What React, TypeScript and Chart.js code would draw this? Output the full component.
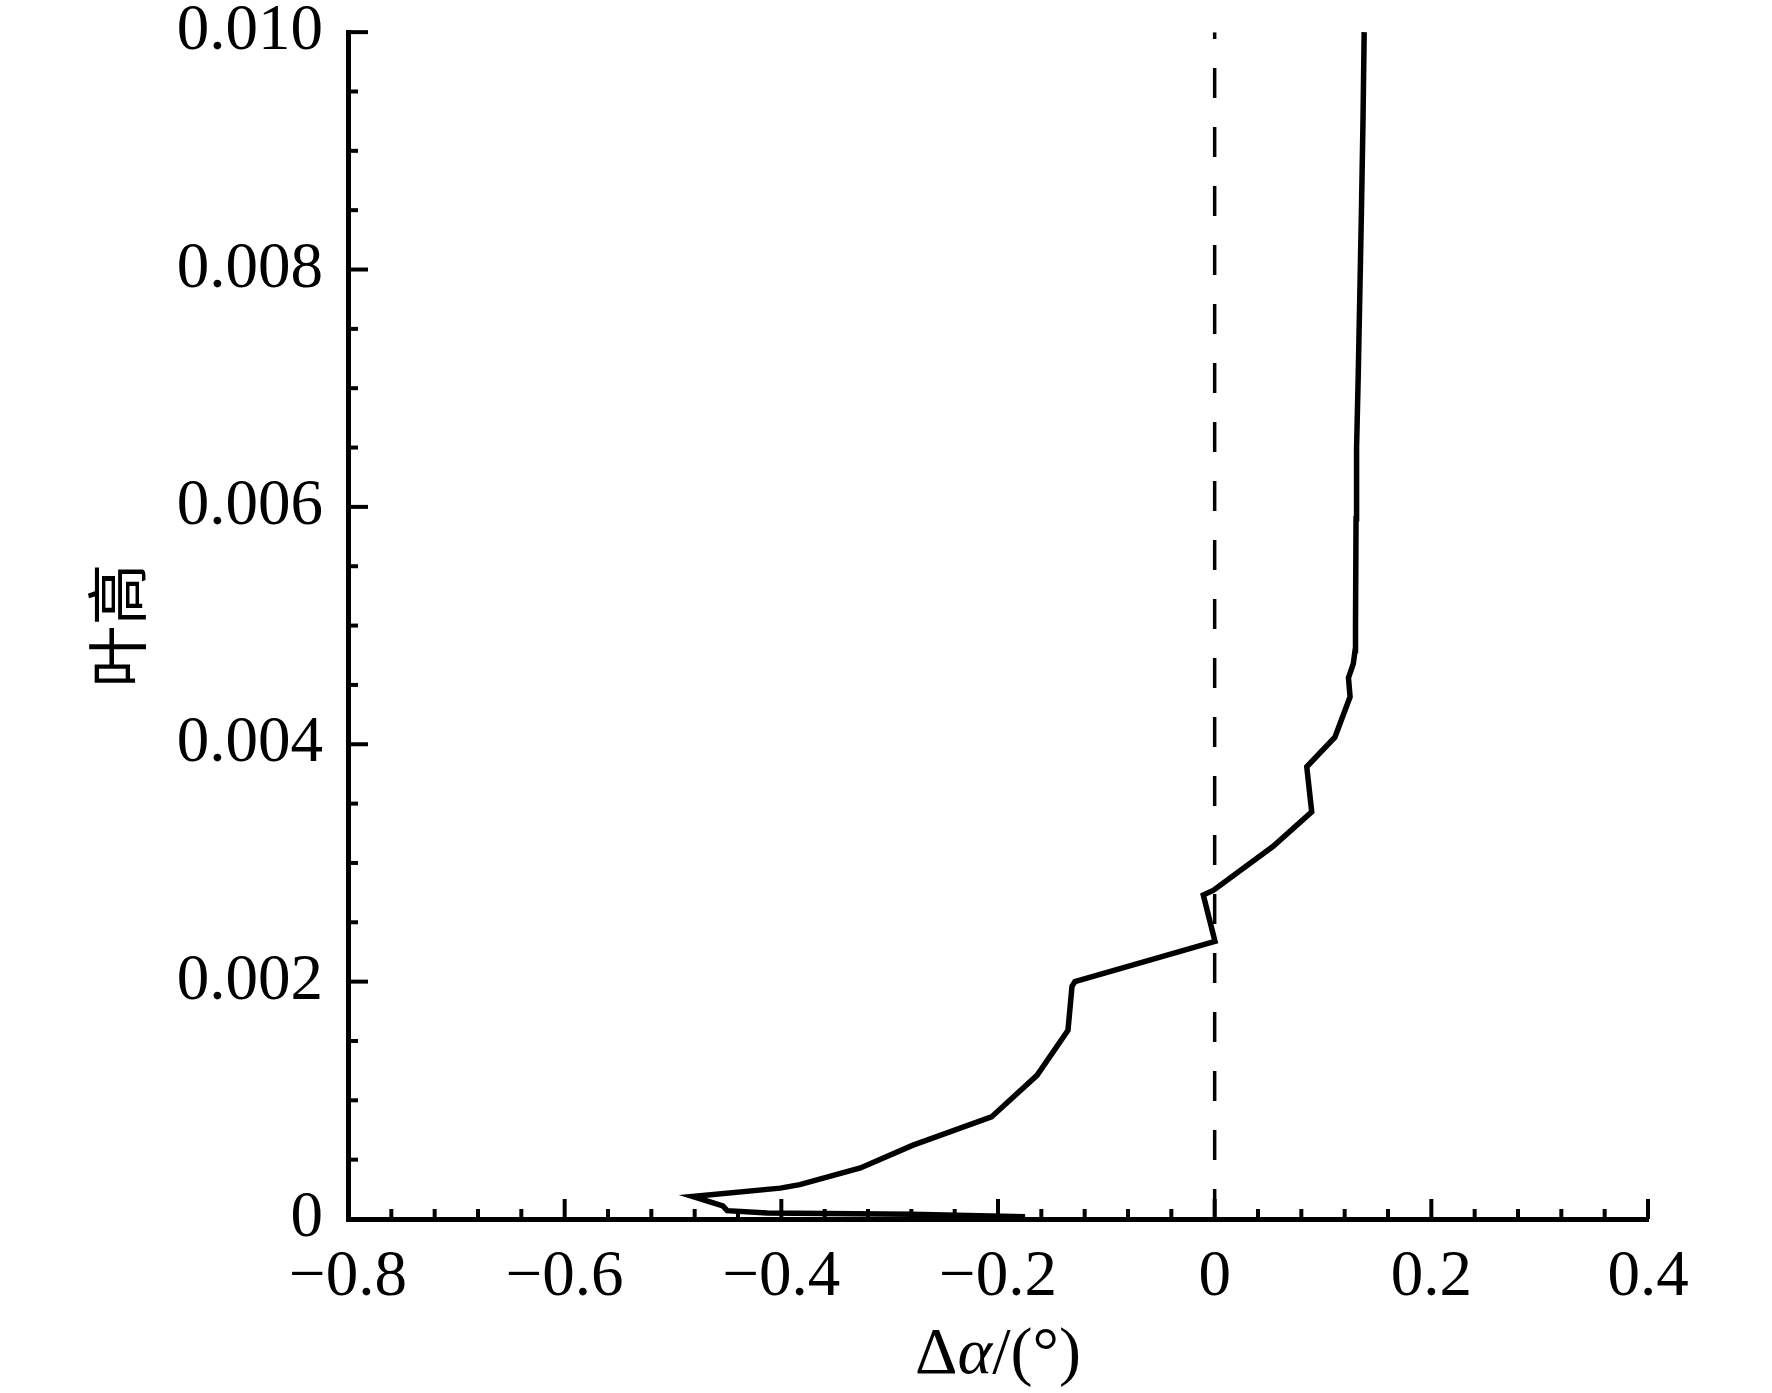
import { useEffect, useRef } from 'react';
import { Chart, registerables } from 'chart.js';

Chart.register(...registerables);

// Blade twist deviation along the blade height
const deltaAlpha = [
  -0.175, -0.28, -0.413, -0.45, -0.454, -0.482, -0.401, -0.383, -0.327, -0.279,
  -0.206, -0.164, -0.1354, -0.1317, -0.129, 0.0003, -0.0105, -0.001, 0.054, 0.0896,
  0.085, 0.111, 0.125, 0.1235, 0.128, 0.1296, 0.13, 0.1305, 0.131, 0.1325,
  0.134, 0.1355, 0.137, 0.138,
];
const bladeHeight = [
  0.00002, 0.00004, 0.00005, 0.00007, 0.00011, 0.00019, 0.00026, 0.00029, 0.00043, 0.00062,
  0.00086, 0.00121, 0.00159, 0.00196, 0.002, 0.00234, 0.00273, 0.00277, 0.00314, 0.00343,
  0.00381, 0.00406, 0.0044, 0.00456, 0.00468, 0.00479, 0.005, 0.0059, 0.0065, 0.0071,
  0.0078, 0.0085, 0.0093, 0.01,
];

// zero reference line
const zeroLineX = [0, 0];
const zeroLineY = [0, 0.01];

const xTickValues = [-0.8, -0.6, -0.4, -0.2, 0, 0.2, 0.4];
const xTickLabels = ['\u22120.8', '\u22120.6', '\u22120.4', '\u22120.2', '0', '0.2', '0.4'];
const yTickValues = [0, 0.002, 0.004, 0.006, 0.008, 0.01];
const yTickLabels = ['0', '0.002', '0.004', '0.006', '0.008', '0.010'];

const SERIF = '"Liberation Serif", "Times New Roman", serif';

// ticks point inward, major + minor
const innerTicks = {
  id: 'innerTicks',
  afterDraw(chart: any) {
    const { ctx, chartArea, scales } = chart;
    const xs = scales.x;
    const ys = scales.y;
    ctx.save();
    ctx.strokeStyle = '#000';
    ctx.lineWidth = 4;
    ctx.lineCap = 'butt';
    for (let i = 0; i <= 30; i++) {
      const v = -0.8 + i * 0.04;
      const px = xs.getPixelForValue(v);
      const len = i % 5 === 0 ? 20 : 10;
      ctx.beginPath();
      ctx.moveTo(px, chartArea.bottom);
      ctx.lineTo(px, chartArea.bottom - len);
      ctx.stroke();
    }
    for (let i = 0; i <= 20; i++) {
      const v = i * 0.0005;
      const py = ys.getPixelForValue(v);
      const len = i % 4 === 0 ? 20 : 10;
      ctx.beginPath();
      ctx.moveTo(chartArea.left, py);
      ctx.lineTo(chartArea.left + len, py);
      ctx.stroke();
    }
    ctx.restore();
  },
};

// x title with italic alpha
const xTitle = {
  id: 'xTitle',
  afterDraw(chart: any) {
    const { ctx, chartArea } = chart;
    const parts = [
      { t: '\u0394', f: `66px ${SERIF}` },
      { t: '\u03b1', f: `italic 66px ${SERIF}` },
      { t: '/(\u00b0)', f: `66px ${SERIF}` },
    ];
    ctx.save();
    ctx.fillStyle = '#000';
    ctx.textBaseline = 'alphabetic';
    ctx.textAlign = 'left';
    let total = 0;
    parts.forEach((p) => {
      ctx.font = p.f;
      total += ctx.measureText(p.t).width;
    });
    let x = (chartArea.left + chartArea.right) / 2 - total / 2;
    parts.forEach((p) => {
      ctx.font = p.f;
      ctx.fillText(p.t, x, 1373);
      x += ctx.measureText(p.t).width;
    });
    ctx.restore();
  },
};

export default function App() {
  const canvasRef = useRef<HTMLCanvasElement>(null);

  useEffect(() => {
    if (!canvasRef.current) return;
    const chart = new Chart(canvasRef.current, {
      type: 'scatter',
      data: {
        datasets: [
          {
            data: deltaAlpha.map((x, i) => ({ x, y: bladeHeight[i] })),
            showLine: true,
            borderColor: '#000',
            borderWidth: 5.5,
            pointRadius: 0,
            tension: 0,
            clip: false,
          },
          {
            data: zeroLineX.map((x, i) => ({ x, y: zeroLineY[i] })),
            showLine: true,
            borderColor: '#000',
            borderWidth: 3.5,
            borderDash: [30, 29],
            pointRadius: 0,
          },
        ],
      },
      options: {
        responsive: false,
        animation: false,
        devicePixelRatio: 1,
        layout: { padding: { left: 0, right: 124, top: 0, bottom: 0 } },
        plugins: {
          legend: { display: false },
          tooltip: { enabled: false },
        },
        scales: {
          x: {
            type: 'linear',
            min: -0.8,
            max: 0.4,
            afterBuildTicks: (scale: any) => {
              scale.ticks = xTickValues.map((value) => ({ value }));
            },
            afterFit: (scale: any) => {
              scale.height = 174;
            },
            grid: { display: false, drawTicks: false },
            border: { display: true, color: '#000', width: 5 },
            ticks: {
              color: '#000',
              padding: 20,
              maxRotation: 0,
              font: { family: SERIF, size: 65 },
              callback: (_v: any, i: number) => xTickLabels[i],
            },
          },
          y: {
            type: 'linear',
            min: 0,
            max: 0.01,
            afterBuildTicks: (scale: any) => {
              scale.ticks = yTickValues.map((value) => ({ value }));
            },
            afterFit: (scale: any) => {
              scale.width = 348;
            },
            grid: { display: false, drawTicks: false },
            border: { display: true, color: '#000', width: 5 },
            ticks: {
              color: '#000',
              padding: 25,
              // small line height so the top label does not push the plot down
              font: { family: SERIF, size: 65, lineHeight: 0.22 },
              callback: (_v: any, i: number) => yTickLabels[i],
            },
            title: {
              display: true,
              text: '\u53f6\u9ad8',
              color: '#000',
              padding: { top: 80, bottom: 0 },
              font: { family: '"Noto Sans CJK SC", sans-serif', size: 62 },
            },
          },
        },
      },
      plugins: [innerTicks, xTitle],
    });
    return () => chart.destroy();
  }, []);

  return (
    <div style={{ position: 'fixed', left: 0, top: 0, width: 1772, height: 1393, background: '#fff' }}>
      <canvas ref={canvasRef} width={1772} height={1393} />
    </div>
  );
}
